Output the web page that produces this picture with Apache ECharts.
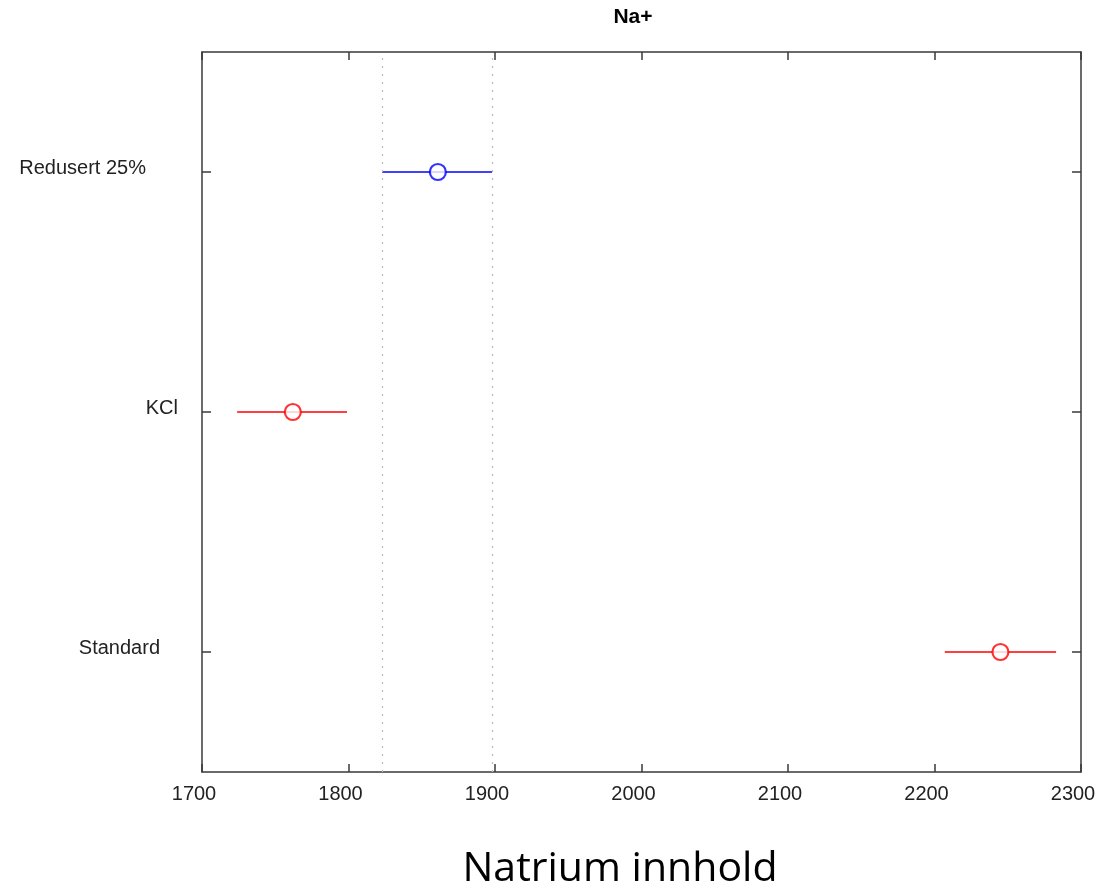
<!DOCTYPE html>
<html>
<head>
<meta charset="utf-8">
<script src="https://cdn.jsdelivr.net/npm/echarts@6/dist/echarts.min.js"></script>
<style>html,body{margin:0;padding:0;background:#fff;}#c{width:1100px;height:888px;}</style>
</head>
<body>
<div id="c"></div>
<script>
const categories = ['Standard', 'KCl', 'Redusert 25%'];
const means = [2245, 1762, 1861];
const lower = [2207, 1724, 1823];
const upper = [2283, 1799, 1898];
const refLines = [1823, 1898];
const xTicks = [1700, 1800, 1900, 2000, 2100, 2200, 2300];

const colors = ['#ff0000', '#ff0000', '#0000ff'];
const labelPad = {'Standard': 18, 'KCl': 0, 'Redusert 25%': 32};

const chart = echarts.init(document.getElementById('c'));
const axisColor = '#3a3a3a';
const barData = categories.map((c, i) => [lower[i], upper[i], i]);
const pointData = categories.map((c, i) => ({value: [means[i], i], itemStyle: {borderColor: colors[i]}}));

chart.setOption({
  animation: false,
  backgroundColor: '#fff',
  title: {
    text: 'Na+', left: 628, top: 2, textAlign: 'center',
    textStyle: {fontFamily: 'Liberation Sans', fontSize: 21, fontWeight: 'bold', color: '#000'}
  },
  grid: {left: 202, right: 19, top: 52, bottom: 116, containLabel: false, outerBoundsMode: 'none'},
  xAxis: [{
    type: 'value', min: xTicks[0], max: xTicks[xTicks.length - 1], interval: 100,
    position: 'bottom',
    name: 'Natrium innhold', nameLocation: 'middle', nameGap: 77,
    nameTextStyle: {fontFamily: 'Open Sans', fontSize: 41, color: '#000', padding: [0, 43, 0, 0]},
    axisLine: {show: true, lineStyle: {color: axisColor, width: 1.5}},
    axisTick: {show: true, inside: true, length: 8, lineStyle: {color: axisColor, width: 1.5}},
    axisLabel: {fontFamily: 'Liberation Sans', fontSize: 20, color: '#222', margin: 12, padding: [0, 16, 0, 0],
      formatter: v => String(v)},
    splitLine: {show: false}
  }, {
    type: 'value', min: xTicks[0], max: xTicks[xTicks.length - 1], interval: 100,
    position: 'top',
    axisLine: {show: true, lineStyle: {color: axisColor, width: 1.5}},
    axisTick: {show: true, inside: true, length: 8, lineStyle: {color: axisColor, width: 1.5}},
    axisLabel: {show: false},
    splitLine: {show: false}
  }],
  yAxis: [{
    type: 'category', data: categories, position: 'left', boundaryGap: true,
    axisLine: {show: true, lineStyle: {color: axisColor, width: 1.5}},
    axisTick: {show: true, inside: true, length: 9, alignWithLabel: true, lineStyle: {color: axisColor, width: 1.5}},
    axisLabel: {
      margin: 24, fontFamily: 'Liberation Sans', fontSize: 20, color: '#222',
      formatter: v => '{p' + categories.indexOf(v) + '|' + v + '}',
      rich: Object.fromEntries(categories.map((c, i) => ['p' + i, {fontFamily: 'Liberation Sans', fontSize: 20, color: '#222', padding: [0, labelPad[c], 8, 0]}]))
    },
    splitLine: {show: false}
  }, {
    type: 'category', data: categories, position: 'right', boundaryGap: true,
    axisLine: {show: true, lineStyle: {color: axisColor, width: 1.5}},
    axisTick: {show: true, inside: true, length: 9, alignWithLabel: true, lineStyle: {color: axisColor, width: 1.5}},
    axisLabel: {show: false},
    splitLine: {show: false}
  }],
  series: [{
    type: 'custom',
    xAxisIndex: 0, yAxisIndex: 0,
    data: barData,
    renderItem: (params, api) => {
      const a = api.coord([api.value(0), api.value(2)]);
      const b = api.coord([api.value(1), api.value(2)]);
      return {type: 'line', shape: {x1: a[0], y1: a[1], x2: b[0], y2: b[1]},
        style: {stroke: colors[params.dataIndex], lineWidth: 1.5}};
    },
    markLine: {
      silent: true, symbol: 'none', label: {show: false},
      lineStyle: {type: [2, 6], color: '#bbbbbb', width: 1.2},
      data: refLines.map(v => ({xAxis: v}))
    },
    z: 2
  }, {
    type: 'scatter',
    xAxisIndex: 0, yAxisIndex: 0,
    data: pointData,
    symbol: 'circle', symbolSize: 16,
    itemStyle: {color: '#fff', borderWidth: 2.2},
    z: 3
  }]
});
</script>
</body>
</html>
